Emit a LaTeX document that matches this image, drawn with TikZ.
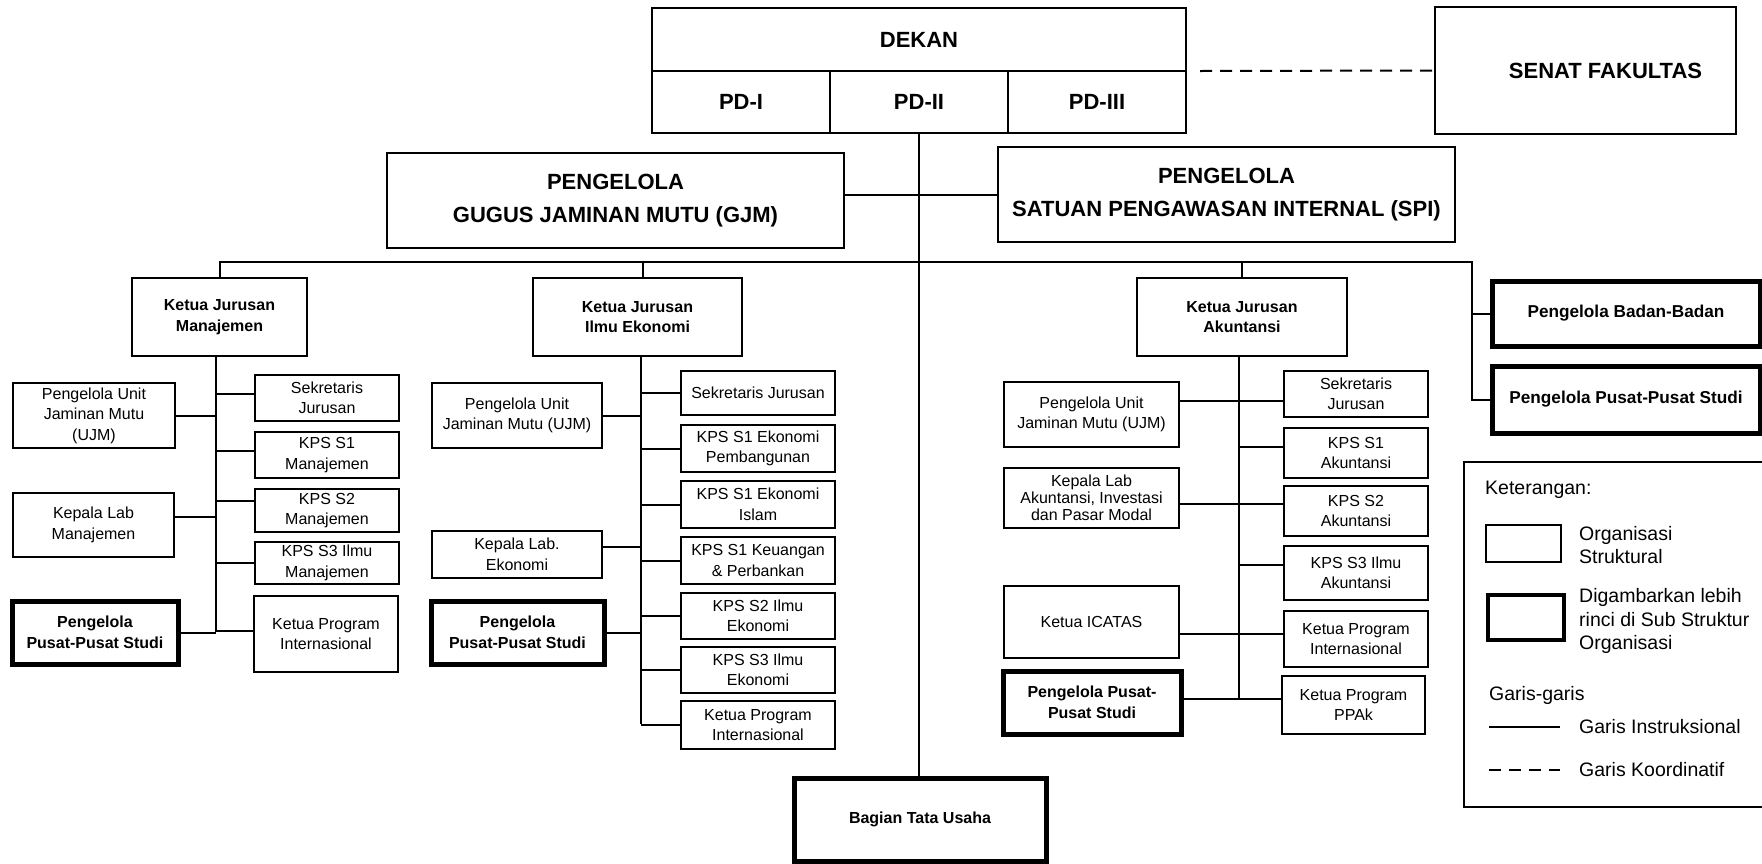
\documentclass[tikz,border=0pt]{standalone}
\usepackage{fontspec}
\setmainfont{Liberation Sans}
\newcommand\myfs[2]{\fontsize{#1pt}{#2pt}\selectfont}
\newcommand\bx[7][box]{\node[#1, minimum width={#5-#3}, minimum height={#6-#4}] (#2) at ({(#3+#5)/2},{(#4+#6)/2}) {#7};}
\tikzset{
  box/.style={draw, line width=2.2pt, inner sep=0pt, align=center, font={\myfs{16}{20.5}}},
  tight/.style={box, font={\myfs{16}{17}}},
  hbox/.style={box, font={\myfs{16}{20.5}\bfseries}},
  tbox/.style={box, line width=5pt, font={\myfs{16}{20.5}\bfseries}},
  rbox/.style={box, line width=5pt, font={\myfs{17.2}{20.5}\bfseries}},
  topbox/.style={box, font={\myfs{22}{33}\bfseries}},
  lgthin/.style={draw, line width=1.6pt, inner sep=0pt},
  lgthick/.style={draw, line width=4.5pt, inner sep=0pt},
  line/.style={line width=2pt},
  dline/.style={line width=2pt, dash pattern=on 12pt off 8pt},
  legtxt/.style={anchor=west, inner sep=0pt, align=left, font={\myfs{19.5}{23.5}}}
}
\begin{document}
\begin{tikzpicture}[x=1pt,y=-1pt]
\useasboundingbox (0,0) rectangle (1762,863);
% ---------- top ----------
\bx[topbox]{dekan}{652}{8}{1186}{71}{DEKAN}
\bx[topbox]{pd1}{652}{71}{830}{133}{PD-I}
\bx[topbox]{pd2}{830}{71}{1008}{133}{PD-II}
\bx[topbox]{pd3}{1008}{71}{1186}{133}{PD-III}
\bx[topbox]{senat}{1435}{7}{1736}{134}{\hspace*{40pt}SENAT FAKULTAS}
\bx[topbox]{gjm}{387}{153}{844}{248}{PENGELOLA\\GUGUS JAMINAN MUTU (GJM)}
\bx[topbox]{spi}{998}{147}{1455}{242}{PENGELOLA\\SATUAN PENGAWASAN INTERNAL (SPI)}
\bx[tbox]{btu}{794}{778}{1046}{861}{Bagian Tata Usaha}
% ---------- heads ----------
\bx[hbox]{kjm}{132}{278}{307}{356}{Ketua Jurusan\\Manajemen}
\bx[hbox]{kje}{533}{278}{742}{356}{Ketua Jurusan\\Ilmu Ekonomi}
\bx[hbox]{kja}{1137}{278}{1347}{356}{Ketua Jurusan\\Akuntansi}
\bx[rbox]{badan}{1492}{281}{1760}{346}{Pengelola Badan-Badan}
\bx[rbox]{ppsr}{1492}{366}{1760}{433}{Pengelola Pusat-Pusat Studi}
% ---------- Manajemen ----------
\bx{ujmm}{13}{383}{175}{448}{Pengelola Unit\\Jaminan Mutu\\(UJM)}
\bx{klm}{13}{493}{174}{557}{Kepala Lab\\Manajemen}
\bx[tbox]{ppsm}{12}{601}{178}{664}{Pengelola\\Pusat-Pusat Studi}
\bx{sekm}{255}{375}{399}{421}{Sekretaris\\Jurusan}
\bx{s1m}{255}{432}{399}{478}{KPS S1\\Manajemen}
\bx{s2m}{255}{489}{399}{532}{KPS S2\\Manajemen}
\bx{s3m}{255}{542}{399}{584}{KPS S3 Ilmu\\Manajemen}
\bx{kpim}{254}{596}{398}{672}{Ketua Program\\Internasional}
% ---------- Ilmu Ekonomi ----------
\bx{ujme}{432}{383}{602}{448}{Pengelola Unit\\Jaminan Mutu (UJM)}
\bx{kle}{432}{531}{602}{578}{Kepala Lab.\\Ekonomi}
\bx[tbox]{ppse}{431}{601}{604}{664}{Pengelola\\Pusat-Pusat Studi}
\bx{seke}{681}{371}{835}{415}{Sekretaris Jurusan}
\bx{s1ep}{681}{425}{835}{472}{KPS S1 Ekonomi\\Pembangunan}
\bx{s1ei}{681}{481}{835}{528}{KPS S1 Ekonomi\\Islam}
\bx{s1kp}{681}{537}{835}{584}{KPS S1 Keuangan\\\& Perbankan}
\bx{s2e}{681}{593}{835}{639}{KPS S2 Ilmu\\Ekonomi}
\bx{s3e}{681}{647}{835}{693}{KPS S3 Ilmu\\Ekonomi}
\bx{kpie}{681}{701}{835}{749}{Ketua Program\\Internasional}
% ---------- Akuntansi ----------
\bx{ujma}{1004}{382}{1179}{447}{Pengelola Unit\\Jaminan Mutu (UJM)}
\bx[tight]{kla}{1004}{468}{1179}{528}{Kepala Lab\\Akuntansi, Investasi\\dan Pasar Modal}
\bx{icatas}{1004}{586}{1179}{658}{Ketua ICATAS}
\bx[tbox]{ppsa}{1003}{671}{1181}{734}{Pengelola Pusat-\\Pusat Studi}
\bx{seka}{1284}{371}{1428}{417}{Sekretaris\\Jurusan}
\bx{s1a}{1284}{428}{1428}{478}{KPS S1\\Akuntansi}
\bx{s2a}{1284}{486}{1428}{536}{KPS S2\\Akuntansi}
\bx{s3a}{1284}{546}{1428}{600}{KPS S3 Ilmu\\Akuntansi}
\bx{kpia}{1284}{611}{1428}{667}{Ketua Program\\Internasional}
\bx{ppak}{1282}{676}{1425}{734}{Ketua Program\\PPAk}
% ---------- top connectors ----------
\coordinate (dks) at (1200,71);
\draw[dline] (dks) -- (senat.west);
\draw[line] (pd2.south) -- (pd2.south |- btu.north);
\draw[line] (gjm.east |- spi.west) -- (spi.west);
\coordinate (busR) at (1472,262);
\draw[line] (kjm.north) |- (busR) |- (ppsr.west);
\draw[line] ([xshift=5.5pt]kje.north) -- ([xshift=5.5pt]kje.north |- busR);
\draw[line] (kja.north) -- (kja.north |- busR);
\draw[line] (badan.west) -- (badan.west -| busR);
% ---------- Manajemen connectors ----------
\coordinate (tm) at (216,356);
\coordinate (tmb) at (216,632);
\draw[line] (tm) -- (tmb);
\draw[line] ([yshift=4pt]sekm.west) -- ([yshift=4pt]sekm.west -| tm);
\draw[line] ([yshift=4pt]s1m.west) -- ([yshift=4pt]s1m.west -| tm);
\draw[line] ([yshift=10pt]s2m.west) -- ([yshift=10pt]s2m.west -| tm);
\draw[line] (s3m.west) -- (s3m.west -| tm);
\draw[line] ([yshift=3pt]kpim.west) -- ([yshift=3pt]kpim.west -| tm);
\draw[line] (ujmm.east) -- (ujmm.east -| tm);
\draw[line] ([yshift=8pt]klm.east) -- ([yshift=8pt]klm.east -| tm);
\draw[line] (ppsm.east) -- (ppsm.east -| tm);
% ---------- Ilmu Ekonomi connectors ----------
\coordinate (te) at (641,356);
\coordinate (teb) at (641,724);
\draw[line] (te) -- (teb);
\draw[line] (seke.west) -- (seke.west -| te);
\draw[line] (s1ep.west) -- (s1ep.west -| te);
\draw[line] (s1ei.west) -- (s1ei.west -| te);
\draw[line] (s1kp.west) -- (s1kp.west -| te);
\draw[line] (s2e.west) -- (s2e.west -| te);
\draw[line] (s3e.west) -- (s3e.west -| te);
\draw[line] (kpie.west) -- (kpie.west -| te);
\draw[line] (ujme.east) -- (ujme.east -| te);
\draw[line] ([yshift=7.5pt]kle.east) -- ([yshift=7.5pt]kle.east -| te);
\draw[line] (ppse.east) -- (ppse.east -| te);
% ---------- Akuntansi connectors ----------
\coordinate (ta) at (1239,356);
\coordinate (tab) at (1239,699);
\draw[line] (ta) -- (tab);
\draw[line] ([yshift=-7pt]seka.west) -- ([yshift=-7pt]seka.west -| ujma.east);
\draw[line] ([yshift=6pt]s1a.west) -- ([yshift=6pt]s1a.west -| ta);
\draw[line] ([yshift=7pt]s2a.west) -- ([yshift=7pt]s2a.west -| kla.east);
\draw[line] ([yshift=8pt]s3a.west) -- ([yshift=8pt]s3a.west -| ta);
\draw[line] ([yshift=5pt]kpia.west) -- ([yshift=5pt]kpia.west -| icatas.east);
\draw[line] ([yshift=6pt]ppak.west) -- ([yshift=6pt]ppak.west -| ppsa.east);
% ---------- legend ----------
\draw[line] (1762,462) -| (1464,807) -- (1762,807);
\node[legtxt] (ket) at (1485,490) {Keterangan:};
\bx[lgthin]{lg1}{1486}{525}{1561}{562}{}
\node[legtxt] (lt1) at (1579,545) {Organisasi\\Struktural};
\bx[lgthick]{lg2}{1488}{595}{1564}{640}{}
\node[legtxt] (lt2) at (1579,621) {Digambarkan lebih\\rinci di Sub Struktur\\Organisasi};
\node[legtxt] (gg) at (1489,695) {Garis-garis};
\coordinate (la1) at (1489,727);
\coordinate (la2) at (1560,727);
\draw[line] (la1) -- (la2);
\node[legtxt] (lt3) at (1579,727) {Garis Instruksional};
\coordinate (lb1) at (1489,770);
\coordinate (lb2) at (1560,770);
\draw[dline] (lb1) -- (lb2);
\node[legtxt] (lt4) at (1579,770) {Garis Koordinatif};
\end{tikzpicture}
\end{document}
